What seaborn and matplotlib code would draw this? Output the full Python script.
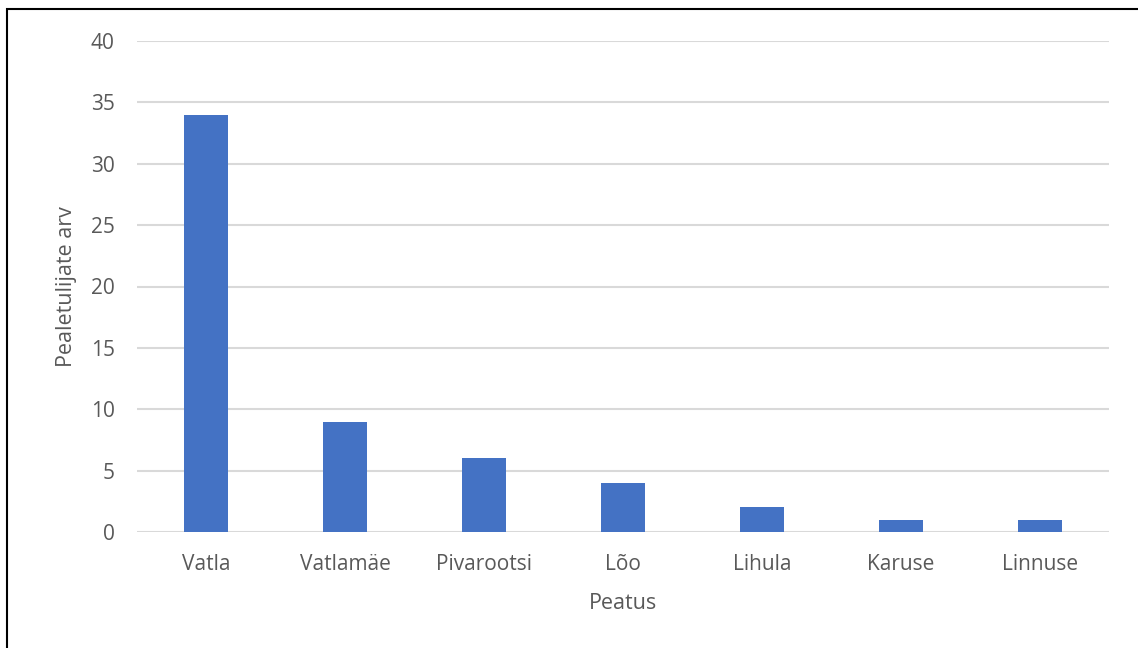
import matplotlib
matplotlib.use("Agg")
import matplotlib.pyplot as plt
from matplotlib.patches import Rectangle
import seaborn as sns
import pandas as pd

stops = ["Vatla", "Vatlamäe", "Pivarootsi", "Lõo", "Lihula", "Karuse", "Linnuse"]
riders = [34, 9, 6, 4, 2, 1, 1]
y_ticks = [0, 5, 10, 15, 20, 25, 30, 35, 40]

df = pd.DataFrame({"Peatus": stops, "Pealetulijate arv": riders})

sns.set_theme(style="white")
plt.rcParams["font.family"] = ["Open Sans", "DejaVu Sans"]

W, H = 1138, 648
fig = plt.figure(figsize=(W / 100, H / 100), dpi=100)
ax = fig.add_axes([137 / W, 1 - 532 / H, (1109 - 137) / W, (532 - 41) / H])

sns.barplot(data=df, x="Peatus", y="Pealetulijate arv", color="#4472C4",
            width=0.316, saturation=1, edgecolor="none", ax=ax, zorder=3)

ax.set_ylim(0, 40)
ax.set_xlim(-0.5, len(stops) - 0.5)
ax.set_yticks(y_ticks)
ax.yaxis.grid(True, color="#D9D9D9", linewidth=1.5, zorder=0)
ax.set_axisbelow(True)
for s in ax.spines.values():
    s.set_visible(False)
ax.tick_params(axis="both", length=0, labelsize=15, colors="#595959")
ax.tick_params(axis="y", pad=16)
ax.tick_params(axis="x", pad=16)
ax.set_xlabel("Peatus", fontsize=15.5, color="#595959", labelpad=13)
ax.set_ylabel("Pealetulijate arv", fontsize=15.5, color="#595959", labelpad=10)

# outer frame of the chart area
fig.add_artist(Rectangle((7 / W, -0.1), 1.1, 1 - 9 / H + 0.1, transform=fig.transFigure,
                         fill=False, edgecolor="black", linewidth=1.5))

fig.savefig("out.png", dpi=100, facecolor="white")
